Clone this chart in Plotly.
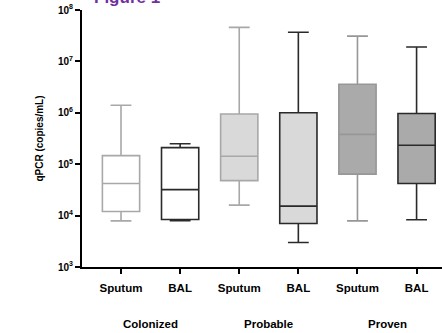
import plotly.graph_objects as go

categories = ["Sputum", "BAL", "Sputum", "BAL", "Sputum", "BAL"]
groups = ["Colonized", "Probable", "Proven"]
lower = [7.9e3, 8.0e3, 1.6e4, 3.0e3, 7.9e3, 8.3e3]
q1 = [1.2e4, 8.4e3, 4.8e4, 7.0e3, 6.4e4, 4.2e4]
median = [4.2e4, 3.2e4, 1.43e5, 1.53e4, 3.8e5, 2.34e5]
q3 = [1.47e5, 2.1e5, 9.5e5, 1.0e6, 3.6e6, 9.7e5]
upper = [1.4e6, 2.5e5, 4.6e7, 3.7e7, 3.1e7, 1.9e7]

fills = ["#ffffff", "#ffffff", "#d9d9d9", "#d9d9d9", "#aaaaaa", "#aaaaaa"]
lines = ["#a8a8a8", "#2a2a2a", "#a8a8a8", "#2a2a2a", "#979797", "#2a2a2a"]

fig = go.Figure()
for i in range(len(categories)):
    fig.add_trace(go.Box(
        x=[i], q1=[q1[i]], median=[median[i]], q3=[q3[i]],
        lowerfence=[lower[i]], upperfence=[upper[i]],
        fillcolor=fills[i], line=dict(color=lines[i], width=1.6),
        width=0.63, whiskerwidth=0.56, boxpoints=False,
        showlegend=False, hoverinfo="skip"))

font = "Liberation Sans, Arial, sans-serif"
fig.update_layout(
    width=442, height=333, margin=dict(l=82, r=0, t=10, b=66),
    paper_bgcolor="white", plot_bgcolor="white", boxmode="overlay",
    font=dict(family=font, size=10, color="black"),
    xaxis=dict(range=[-0.66, 5.43], tickvals=list(range(6)), ticktext=["<b>%s</b>" % c for c in categories],
               showline=True, linecolor="black", linewidth=2, ticks="outside", ticklen=5, tickwidth=2,
               tickcolor="black", showgrid=False, zeroline=False, tickfont=dict(size=11.5),
               ticklabelstandoff=4, automargin=False),
    yaxis=dict(type="log", range=[3, 8], tickvals=[1e3, 1e4, 1e5, 1e6, 1e7, 1e8],
               ticktext=["<b>10<sup>%d</sup></b>" % k for k in range(3, 9)],
               showline=True, linecolor="black", linewidth=2, ticks="outside", ticklen=5, tickwidth=2,
               tickcolor="black", showgrid=False, zeroline=False, tickfont=dict(size=10),
               automargin=False,
               title=dict(text="<b>qPCR (copies/mL)</b>", font=dict(size=10), standoff=12)),
)
for g, xc in zip(groups, [0.5, 2.5, 4.5]):
    fig.add_annotation(x=xc, xref="x", y=-0.22, yref="paper", text="<b>%s</b>" % g,
                       showarrow=False, font=dict(size=11.5), yanchor="middle")
fig.add_annotation(x=0.1, xref="x", y=1.0, yref="paper", yshift=1, text="<b>Figure 1</b>",
                   showarrow=False, font=dict(size=17, color="#7030a0", family="Liberation Sans, Arial"),
                   yanchor="bottom")
fig.write_html("out.html", config={"displayModeBar": False},
               post_script="document.body.style.margin='0px';document.body.style.padding='0px';")
